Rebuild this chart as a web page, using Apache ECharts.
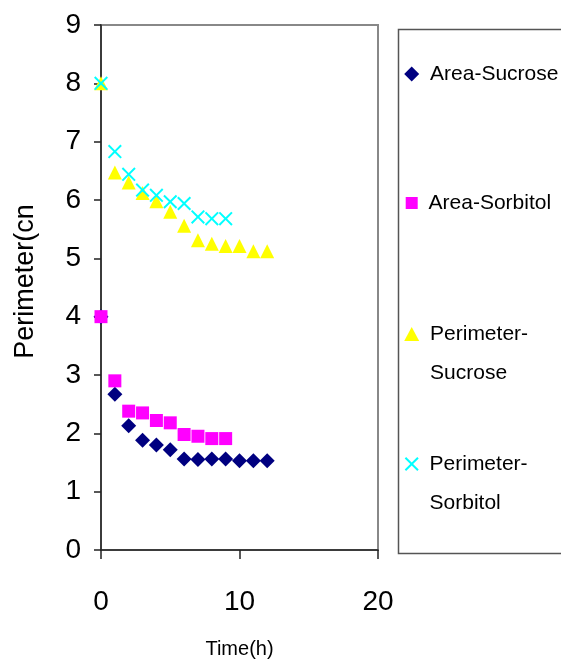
<!DOCTYPE html>
<html>
<head>
<meta charset="utf-8">
<script src="https://cdn.jsdelivr.net/npm/echarts@6/dist/echarts.min.js"></script>
<style>html,body{margin:0;padding:0;background:#fff}#c{width:561px;height:664px}</style>
</head>
<body>
<div id="c"></div>
<script>
const seriesNames = ['Area-Sucrose', 'Area-Sorbitol', 'Perimeter-Sucrose', 'Perimeter-Sorbitol'];
const timeSucrose = [0, 1, 2, 3, 4, 5, 6, 7, 8, 9, 10, 11, 12];
const timeSorbitol = [0, 1, 2, 3, 4, 5, 6, 7, 8, 9];
const areaSucrose = [4.0, 2.67, 2.13, 1.88, 1.80, 1.72, 1.56, 1.55, 1.56, 1.56, 1.53, 1.53, 1.53];
const areaSorbitol = [4.0, 2.90, 2.38, 2.35, 2.22, 2.18, 1.98, 1.95, 1.91, 1.91];
const perimeterSucrose = [8.0, 6.47, 6.30, 6.12, 5.98, 5.80, 5.56, 5.31, 5.25, 5.21, 5.21, 5.12, 5.12];
const perimeterSorbitol = [8.0, 6.83, 6.44, 6.17, 6.08, 5.97, 5.94, 5.71, 5.68, 5.68];
const xTicks = [0, 10, 20];
const yTicks = [0, 1, 2, 3, 4, 5, 6, 7, 8, 9];

const pair = (xs, ys) => xs.map((x, i) => [x, ys[i]]);
const crossPath = 'path://M0,1L1,0L5,4L9,0L10,1L6,5L10,9L9,10L5,6L1,10L0,9L4,5Z';
const sans = "'Liberation Sans', Arial, sans-serif";

const chart = echarts.init(document.getElementById('c'), null, {renderer: 'canvas'});

function legendFor(name, centerY, w, h, twoLine) {
  const ts = {fontFamily: sans, fontSize: 21, color: '#000'};
  let top;
  if (twoLine) { ts.lineHeight = 39; top = centerY - 58.5; }
  else { top = centerY - 10.5; }
  return {
    show: true, data: [name], left: 411.7 - w / 2, top: top, orient: 'vertical',
    itemWidth: w, itemHeight: h, padding: 0,
    selectedMode: false,
    formatter: n => twoLine ? '\n' + n.split('-').map((s, i) => ' ' + s + (i === 0 ? '-' : '')).join('\n') : ' ' + n,
    textStyle: ts
  };
}

chart.setOption({
  animation: false,
  backgroundColor: '#fff',
  grid: {left: 101, right: 183, top: 25, bottom: 111, show: true, borderColor: '#888', borderWidth: 2, containLabel: false},
  xAxis: {
    type: 'value', min: 0, max: 20, interval: 10,
    name: 'Time(h)', nameLocation: 'middle', nameGap: 89,
    nameTextStyle: {fontFamily: sans, fontSize: 20, color: '#000'},
    axisLine: {show: true, lineStyle: {color: '#222', width: 1.5}},
    axisTick: {show: true, inside: false, length: 9, lineStyle: {color: '#222', width: 1.5}},
    axisLabel: {fontFamily: sans, fontSize: 28, color: '#000', margin: 38,
      formatter: v => xTicks.includes(v) ? String(v) : ''},
    splitLine: {show: false}
  },
  yAxis: {
    type: 'value', min: 0, max: 9, interval: 1,
    name: 'Perimeter(cn', nameLocation: 'middle', nameGap: 62, nameRotate: 90,
    nameTextStyle: {fontFamily: sans, fontSize: 27, color: '#000', padding: [0, 0, 0, 12]},
    axisLine: {show: true, lineStyle: {color: '#222', width: 1.5}},
    axisTick: {show: true, inside: false, length: 7, lineStyle: {color: '#222', width: 1.5}},
    axisLabel: {fontFamily: sans, fontSize: 28, color: '#000', margin: 20,
      formatter: v => yTicks.includes(v) ? String(v) : ''},
    splitLine: {show: false}
  },
  legend: [
    legendFor(seriesNames[0], 74, 15, 15, false),
    legendFor(seriesNames[1], 203, 12, 12, false),
    legendFor(seriesNames[2], 334, 15, 14, true),
    legendFor(seriesNames[3], 464, 14, 14, true)
  ],
  graphic: [{
    type: 'rect', left: 396, top: 27, silent: true,
    shape: {width: 170, height: 524},
    style: {fill: 'none', stroke: '#555', lineWidth: 1.5}
  }],
  series: [
    {name: seriesNames[0], type: 'scatter', data: pair(timeSucrose, areaSucrose),
      symbol: 'diamond', symbolSize: 15, itemStyle: {color: '#000080', opacity: 1}},
    {name: seriesNames[1], type: 'scatter', data: pair(timeSorbitol, areaSorbitol),
      symbol: 'rect', symbolSize: 13, itemStyle: {color: '#FF00FF', opacity: 1}},
    {name: seriesNames[2], type: 'scatter', data: pair(timeSucrose, perimeterSucrose),
      symbol: 'triangle', symbolSize: [14, 14], itemStyle: {color: '#FFFF00', opacity: 1}},
    {name: seriesNames[3], type: 'scatter', data: pair(timeSorbitol, perimeterSorbitol),
      symbol: crossPath, symbolSize: 14, itemStyle: {color: '#00FFFF', opacity: 1}}
  ]
});
</script>
</body>
</html>
